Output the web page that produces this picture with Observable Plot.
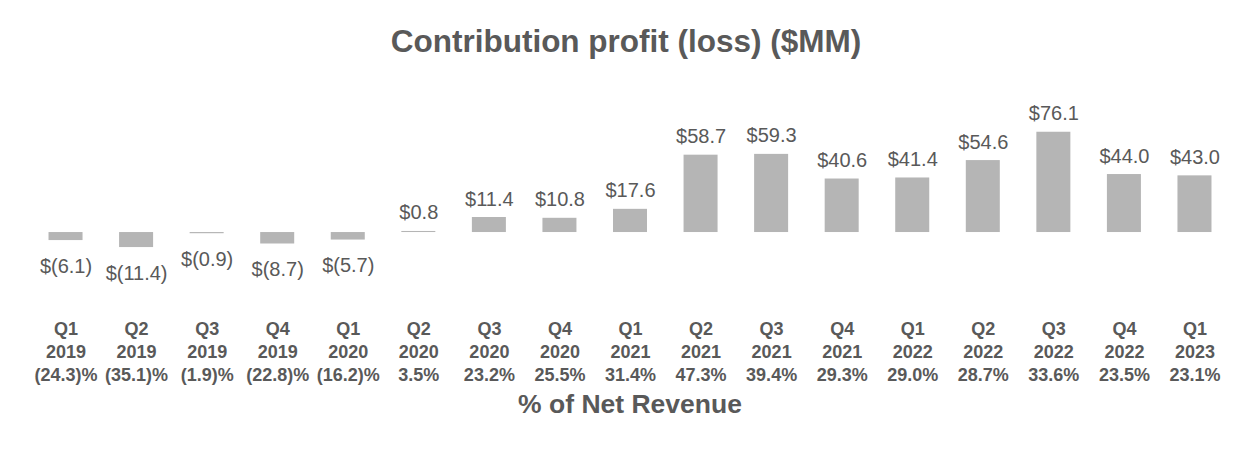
<!DOCTYPE html>
<html>
<head>
<meta charset="utf-8">
<script src="https://cdn.jsdelivr.net/npm/d3@7"></script>
<script src="https://cdn.jsdelivr.net/npm/@observablehq/plot@0.6"></script>
<style>
  html, body { margin: 0; padding: 0; background: #fff; }
  body { width: 1260px; font-family: "Liberation Sans", Arial, sans-serif; color: #595959; }
  #title { margin-top: 22px; height: 38px; line-height: 38px; font-size: 31.5px; font-weight: bold; text-align: center; padding-right: 8px; }
  #footer { height: 30px; line-height: 30px; font-size: 26.5px; font-weight: bold; text-align: center; }
  #chart svg { display: block; }
</style>
</head>
<body>
<div id="title">Contribution profit (loss) ($MM)</div>
<div id="chart"></div>
<div id="footer">% of Net Revenue</div>
<script>
const quarters = ["Q1","Q2","Q3","Q4","Q1","Q2","Q3","Q4","Q1","Q2","Q3","Q4","Q1","Q2","Q3","Q4","Q1"];
const years = ["2019","2019","2019","2019","2020","2020","2020","2020","2021","2021","2021","2021","2022","2022","2022","2022","2023"];
const values = [-6.1, -11.4, -0.9, -8.7, -5.7, 0.8, 11.4, 10.8, 17.6, 58.7, 59.3, 40.6, 41.4, 54.6, 76.1, 44.0, 43.0];
const pctLabels = ["(24.3)%","(35.1)%","(1.9)%","(22.8)%","(16.2)%","3.5%","23.2%","25.5%","31.4%","47.3%","39.4%","29.3%","29.0%","28.7%","33.6%","23.5%","23.1%"];

const data = quarters.map((q, i) => ({
  key: q + " " + years[i],
  label: q + "\n" + years[i] + "\n" + pctLabels[i],
  value: values[i],
  text: values[i] < 0 ? "$(" + Math.abs(values[i]).toFixed(1) + ")" : "$" + values[i].toFixed(1)
}));
const labelMap = new Map(data.map(d => [d.key, d.label]));

const textColor = "#595959";
const barColor = "#b5b5b5";

const chart = Plot.plot({
  width: 1260,
  height: 329,
  marginTop: 66.6,
  marginBottom: 137.2,
  marginLeft: 30,
  marginRight: 30,
  style: { fontFamily: "'Liberation Sans', Arial, sans-serif", color: textColor, background: "#fff" },
  x: { domain: data.map(d => d.key), paddingInner: 0.518, paddingOuter: 0.2625, round: false, axis: null },
  y: { domain: [-15, 80], axis: null },
  marks: [
    Plot.barY(data, { x: "key", y: "value", fill: barColor }),
    Plot.text(data.filter(d => d.value >= 0), {
      x: "key", y: "value", text: "text", lineAnchor: "bottom", dy: -12,
      fontSize: 20, fill: textColor
    }),
    Plot.text(data.filter(d => d.value < 0), {
      x: "key", y: "value", text: "text", lineAnchor: "top", dy: 18,
      fontSize: 20, fill: textColor
    }),
    Plot.axisX({
      tickSize: 0, tickPadding: 66.7, tickFormat: k => labelMap.get(k),
      fontSize: 18, fontWeight: "bold", fill: textColor, lineHeight: 1.27, label: null
    })
  ]
});
document.getElementById("chart").appendChild(chart);
</script>
</body>
</html>
